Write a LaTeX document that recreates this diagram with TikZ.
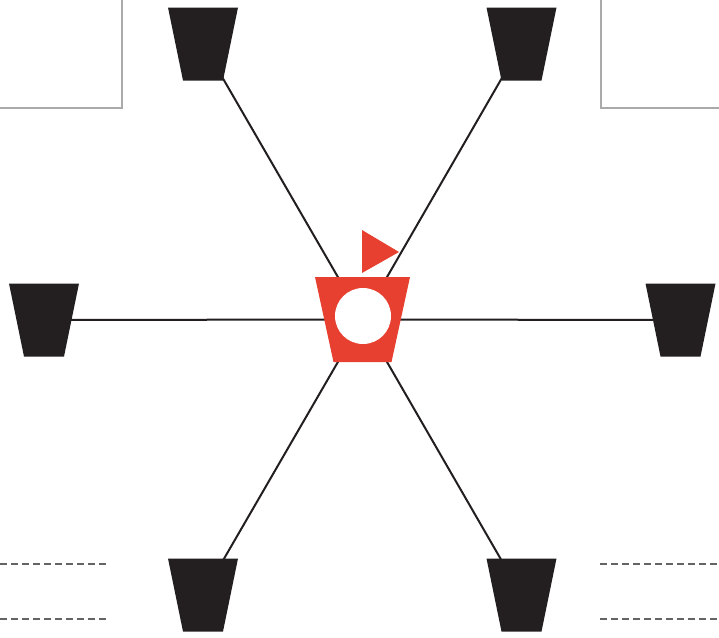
\documentclass[tikz,border=0pt]{standalone}
\usetikzlibrary{backgrounds}
\definecolor{ink}{RGB}{35,31,32}
\definecolor{redc}{RGB}{232,64,48}
\definecolor{framec}{RGB}{170,170,170}
\definecolor{dashc}{RGB}{100,100,100}
\tikzset{
  cupshape/.pic={\fill[ink] (-35,-36.5) -- (35,-36.5) -- (20,36.5) -- (-20,36.5) -- cycle;},
  hubshape/.pic={\fill[redc] (-47.5,-42.5) -- (47.5,-42.5) -- (29,42.5) -- (-29,42.5) -- cycle;},
  conn/.style={draw=ink, line width=2pt},
  frameline/.style={draw=framec, line width=1.3pt},
  dashline/.style={draw=dashc, line width=1.3pt, dash pattern=on 7pt off 4pt},
}
\begin{document}
\begin{tikzpicture}[x=1pt,y=-1pt]
\useasboundingbox (0,0) rectangle (719,637);
% frames
\draw[frameline] (122,0) -- (122,108) -- (0,108);
\draw[frameline] (601,0) -- (601,108) -- (719,108);
% dashed lines
\draw[dashline] (0,564) -- (106,564);
\draw[dashline] (0,619) -- (106,619);
\draw[dashline] (600,564) -- (719,564);
\draw[dashline] (600,619) -- (719,619);
% cups
\coordinate (tl) at (203,44);
\coordinate (tr) at (521.5,44);
\coordinate (l) at (44,320);
\coordinate (r) at (680.5,320);
\coordinate (bl) at (203,595);
\coordinate (br) at (521.5,595);
\foreach \n in {tl,tr,l,r,bl,br} \pic at (\n) {cupshape};
% hub
\coordinate (c) at (362.5,319.5);
\pic at (c) {hubshape};
\node[circle, fill=white, minimum size=56pt, inner sep=0pt] (hole) at (363,316) {};
\fill[redc] (362,230) -- (362,273) -- (399,252) -- cycle;
% connectors
\begin{pgfonlayer}{background}
\foreach \n in {tl,tr,l,r,bl,br}
  \draw[conn] (c) -- (\n);
\end{pgfonlayer}
\end{tikzpicture}
\end{document}
